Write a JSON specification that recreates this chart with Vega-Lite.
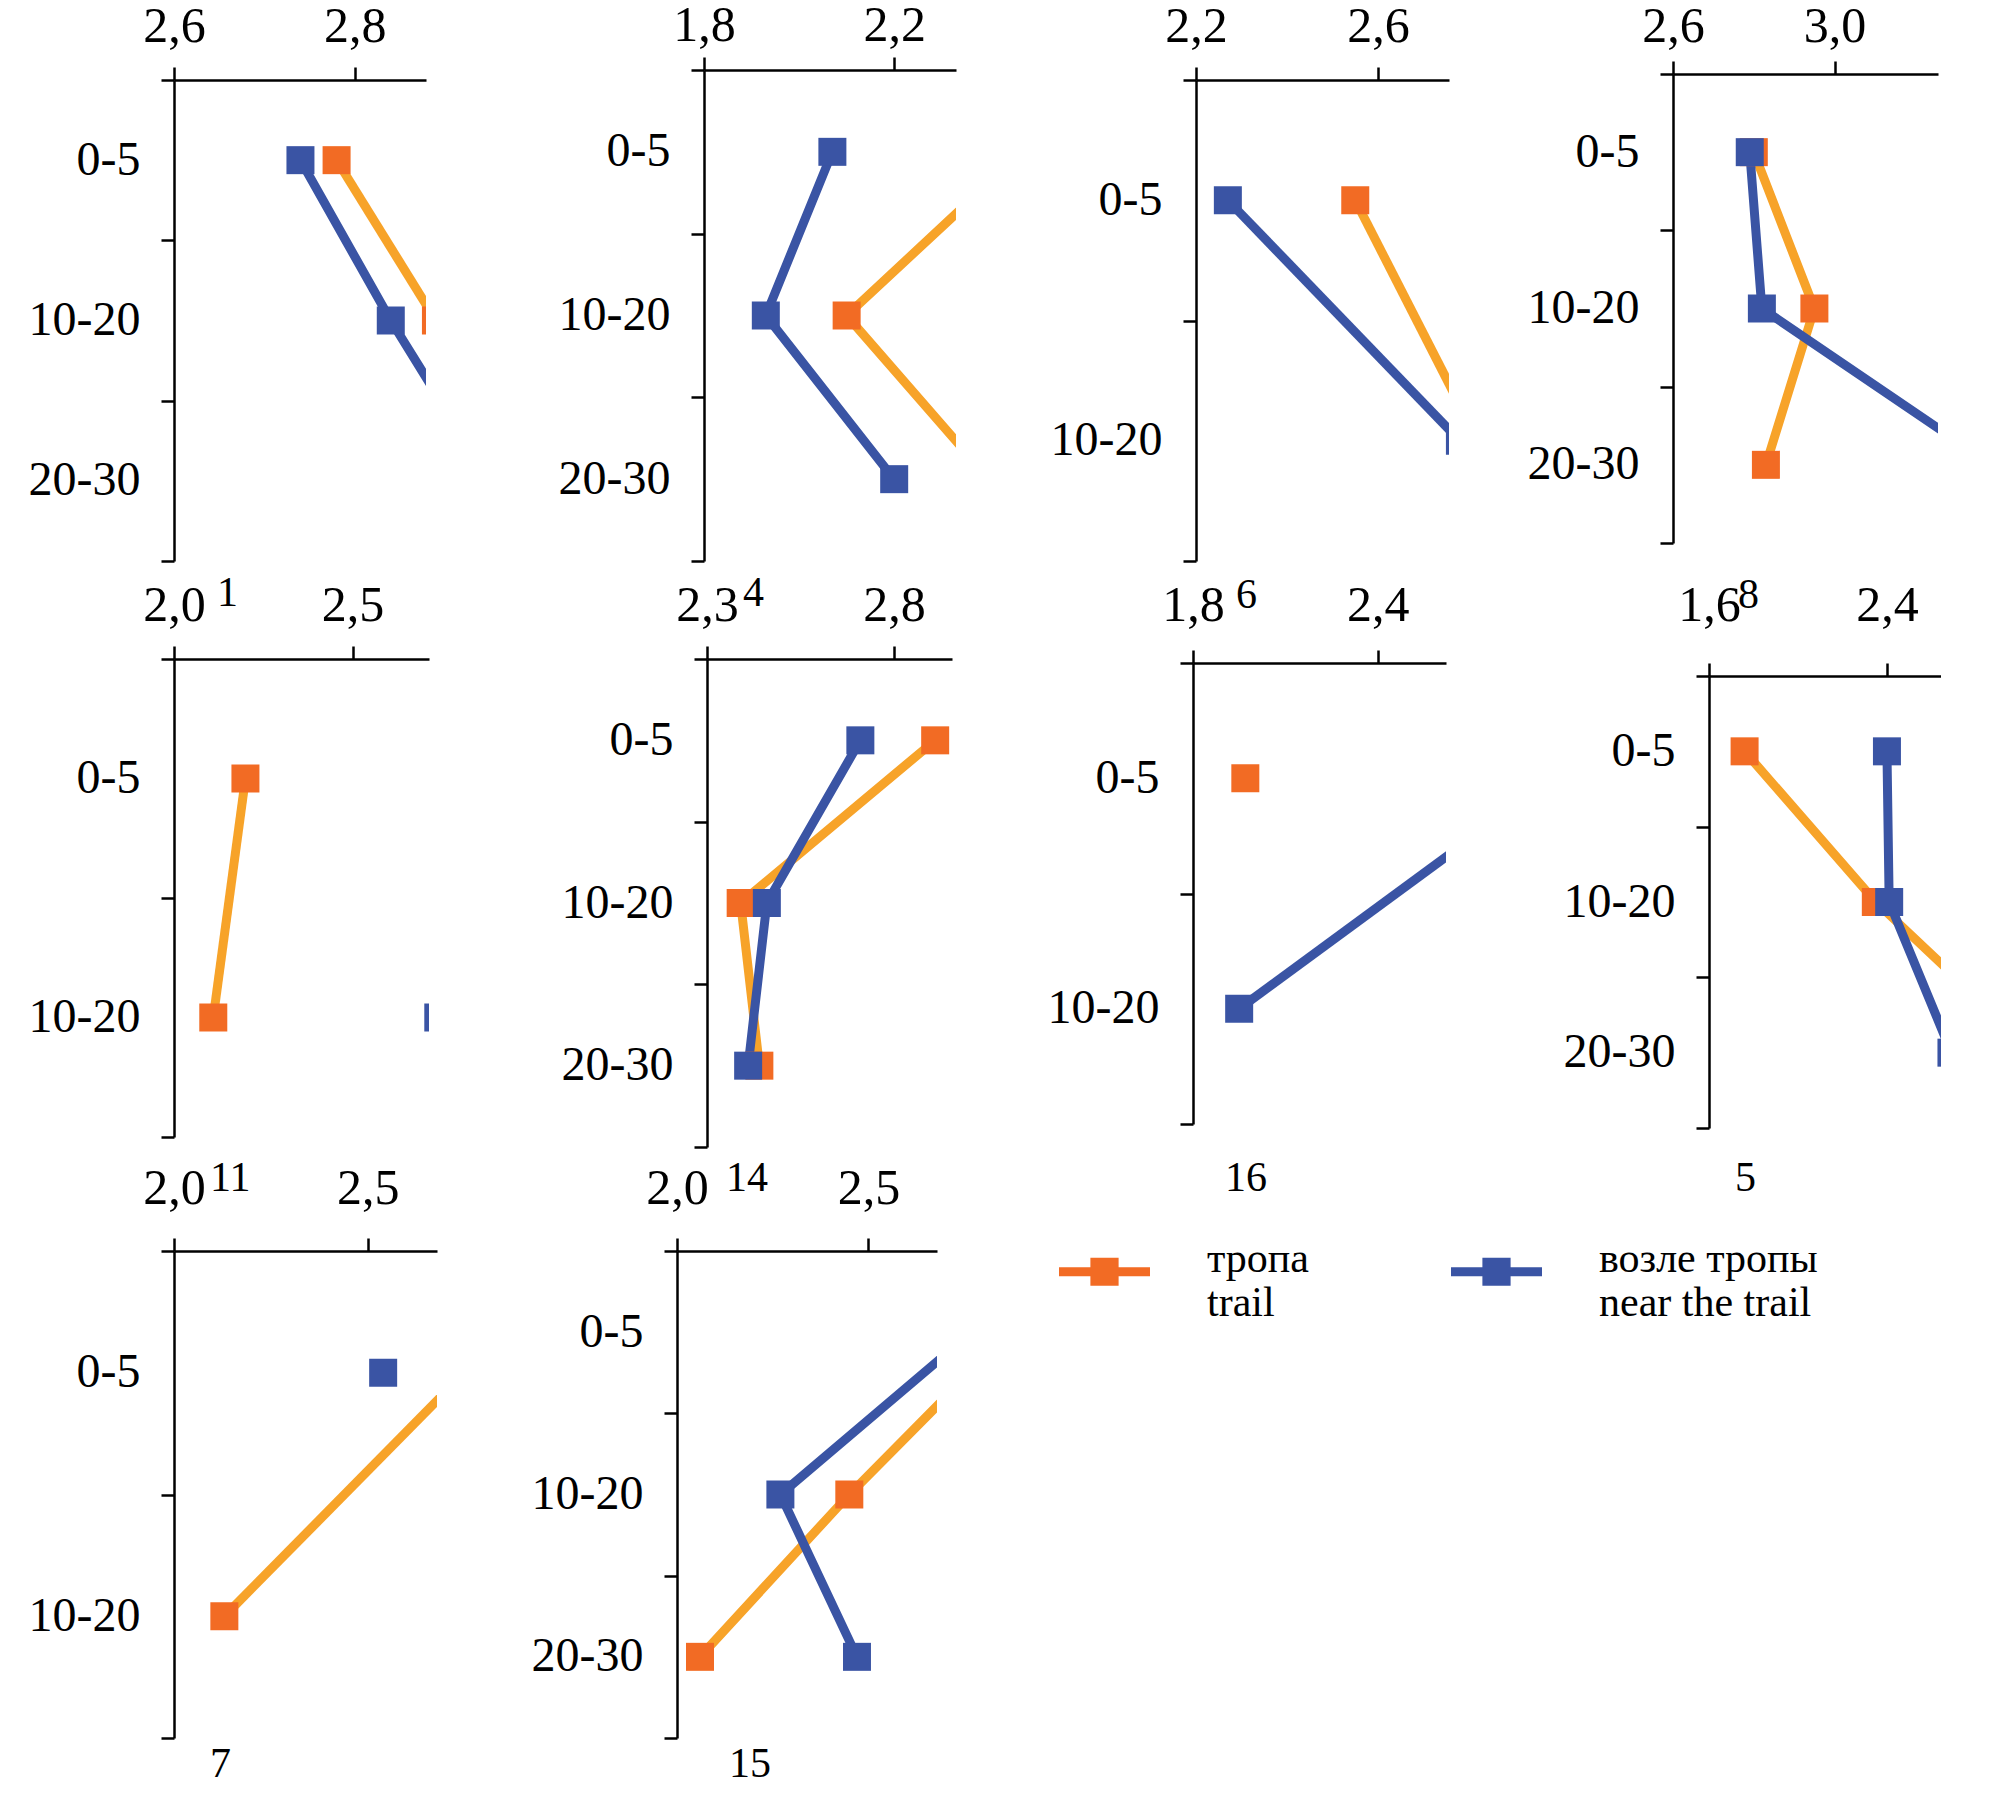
{
  "$schema": "https://vega.github.io/schema/vega-lite/v6.json",
  "background": "white",
  "padding": {"left": 0, "top": 0, "right": 0, "bottom": 0},
  "spacing": -37,
  "datasets": {
    "d": [
      {"p": "1", "s": "тропа", "depth": "0-5", "v": 2.78},
      {"p": "1", "s": "тропа", "depth": "10-20", "v": 2.89},
      {"p": "4", "s": "тропа", "depth": "0-5", "v": 2.47},
      {"p": "4", "s": "тропа", "depth": "10-20", "v": 2.10},
      {"p": "4", "s": "тропа", "depth": "20-30", "v": 2.40},
      {"p": "6", "s": "тропа", "depth": "0-5", "v": 2.55},
      {"p": "6", "s": "тропа", "depth": "10-20", "v": 2.82},
      {"p": "8", "s": "тропа", "depth": "0-5", "v": 2.80},
      {"p": "8", "s": "тропа", "depth": "10-20", "v": 2.95},
      {"p": "8", "s": "тропа", "depth": "20-30", "v": 2.83},
      {"p": "11", "s": "тропа", "depth": "0-5", "v": 2.20},
      {"p": "11", "s": "тропа", "depth": "10-20", "v": 2.11},
      {"p": "14", "s": "тропа", "depth": "0-5", "v": 2.91},
      {"p": "14", "s": "тропа", "depth": "10-20", "v": 2.39},
      {"p": "14", "s": "тропа", "depth": "20-30", "v": 2.44},
      {"p": "16", "s": "тропа", "depth": "0-5", "v": 1.97},
      {"p": "5", "s": "тропа", "depth": "0-5", "v": 1.76},
      {"p": "5", "s": "тропа", "depth": "10-20", "v": 2.35},
      {"p": "5", "s": "тропа", "depth": "20-30", "v": 3.07},
      {"p": "7", "s": "тропа", "depth": "0-5", "v": 2.75},
      {"p": "7", "s": "тропа", "depth": "10-20", "v": 2.13},
      {"p": "15", "s": "тропа", "depth": "0-5", "v": 2.87},
      {"p": "15", "s": "тропа", "depth": "10-20", "v": 2.45},
      {"p": "15", "s": "тропа", "depth": "20-30", "v": 2.06},
      {"p": "1", "s": "возле тропы", "depth": "0-5", "v": 2.74},
      {"p": "1", "s": "возле тропы", "depth": "10-20", "v": 2.84},
      {"p": "1", "s": "возле тропы", "depth": "20-30", "v": 2.95},
      {"p": "4", "s": "возле тропы", "depth": "0-5", "v": 2.07},
      {"p": "4", "s": "возле тропы", "depth": "10-20", "v": 1.93},
      {"p": "4", "s": "возле тропы", "depth": "20-30", "v": 2.20},
      {"p": "6", "s": "возле тропы", "depth": "0-5", "v": 2.27},
      {"p": "6", "s": "возле тропы", "depth": "10-20", "v": 2.78},
      {"p": "8", "s": "возле тропы", "depth": "0-5", "v": 2.79},
      {"p": "8", "s": "возле тропы", "depth": "10-20", "v": 2.82},
      {"p": "8", "s": "возле тропы", "depth": "20-30", "v": 3.39},
      {"p": "11", "s": "возле тропы", "depth": "10-20", "v": 2.74},
      {"p": "14", "s": "возле тропы", "depth": "0-5", "v": 2.71},
      {"p": "14", "s": "возле тропы", "depth": "10-20", "v": 2.46},
      {"p": "14", "s": "возле тропы", "depth": "20-30", "v": 2.41},
      {"p": "16", "s": "возле тропы", "depth": "0-5", "v": 2.97},
      {"p": "16", "s": "возле тропы", "depth": "10-20", "v": 1.95},
      {"p": "5", "s": "возле тропы", "depth": "0-5", "v": 2.40},
      {"p": "5", "s": "возле тропы", "depth": "10-20", "v": 2.41},
      {"p": "5", "s": "возле тропы", "depth": "20-30", "v": 2.69},
      {"p": "7", "s": "возле тропы", "depth": "0-5", "v": 2.54},
      {"p": "15", "s": "возле тропы", "depth": "0-5", "v": 2.77},
      {"p": "15", "s": "возле тропы", "depth": "10-20", "v": 2.27},
      {"p": "15", "s": "возле тропы", "depth": "20-30", "v": 2.47}
    ]
  },
  "vconcat": [
    {
      "spacing": 20,
      "hconcat": [
        {
          "width": 252, "height": 491,
          "title": {"text": "1", "dx": 43, "offset": 11},
          "data": {"name": "d"},
          "transform": [{"filter": "datum.p == '1'"}],
          "encoding": {
            "y": {"field": "depth", "type": "nominal", "title": null, "scale": {"type": "band", "domain": ["0-5", "10-20", "20-30"], "range": [10, 491], "paddingInner": 0, "paddingOuter": 0}, "axis": {"minExtent": 174, "maxExtent": 174}},
            "x": {"field": "v", "type": "quantitative", "title": null, "scale": {"domain": [2.6, 2.879], "nice": false, "zero": false}, "axis": {"orient": "top", "offset": -10, "values": [2.6, 2.8], "labelPadding": 26, "labelExpr": "replace(format(datum.value, '.1f'), '.', ',')"}}
          },
          "layer": [
            {"mark": {"type": "line", "clip": true, "strokeWidth": 9}, "encoding": {"stroke": {"field": "s", "type": "nominal", "scale": {"domain": ["возле тропы", "тропа"], "range": ["#3A54A4", "#F7A329"]}, "legend": null}, "order": {"field": "depth", "type": "ordinal"}}},
            {"mark": {"type": "point", "shape": "square", "filled": true, "size": 784, "opacity": 1, "clip": true}, "encoding": {"color": {"field": "s", "type": "nominal", "scale": {"domain": ["тропа", "возле тропы"], "range": ["#F26B24", "#3A54A4"]}, "legend": {"orient": "none", "legendX": 885, "legendY": 1156, "labelExpr": "datum.label == 'тропа' ? ['тропа', 'trail'] : ['возле тропы', 'near the trail']"}}}}
          ]
        },
        {
          "width": 252, "height": 491,
          "title": {"text": "4", "dx": 39, "offset": 11},
          "data": {"name": "d"},
          "transform": [{"filter": "datum.p == '4'"}],
          "encoding": {
            "y": {"field": "depth", "type": "nominal", "title": null, "scale": {"type": "band", "domain": ["0-5", "10-20", "20-30"], "paddingInner": 0, "paddingOuter": 0}, "axis": {"minExtent": 258, "maxExtent": 258}},
            "x": {"field": "v", "type": "quantitative", "title": null, "scale": {"domain": [1.8, 2.33], "nice": false, "zero": false}, "axis": {"orient": "top", "values": [1.8, 2.2], "labelPadding": 17, "labelExpr": "replace(format(datum.value, '.1f'), '.', ',')"}}
          },
          "layer": [
            {"mark": {"type": "line", "clip": true, "strokeWidth": 9}, "encoding": {"stroke": {"field": "s", "type": "nominal", "scale": {"domain": ["возле тропы", "тропа"], "range": ["#3A54A4", "#F7A329"]}, "legend": null}, "order": {"field": "depth", "type": "ordinal"}}},
            {"mark": {"type": "point", "shape": "square", "filled": true, "size": 784, "opacity": 1, "clip": true}, "encoding": {"color": {"field": "s", "type": "nominal", "scale": {"domain": ["тропа", "возле тропы"], "range": ["#F26B24", "#3A54A4"]}, "legend": {"orient": "none", "legendX": 885, "legendY": 1156, "labelExpr": "datum.label == 'тропа' ? ['тропа', 'trail'] : ['возле тропы', 'near the trail']"}}}}
          ]
        },
        {
          "width": 253, "height": 491,
          "title": {"text": "6", "dx": 40, "offset": 13},
          "data": {"name": "d"},
          "transform": [{"filter": "datum.p == '6'"}],
          "encoding": {
            "y": {"field": "depth", "type": "nominal", "title": null, "scale": {"type": "band", "domain": ["0-5", "10-20"], "range": [10, 491], "paddingInner": 0, "paddingOuter": 0}, "axis": {"minExtent": 220, "maxExtent": 220}},
            "x": {"field": "v", "type": "quantitative", "title": null, "scale": {"domain": [2.2, 2.756], "nice": false, "zero": false}, "axis": {"orient": "top", "offset": -10, "values": [2.2, 2.6], "labelPadding": 26, "labelExpr": "replace(format(datum.value, '.1f'), '.', ',')"}}
          },
          "layer": [
            {"mark": {"type": "line", "clip": true, "strokeWidth": 9}, "encoding": {"stroke": {"field": "s", "type": "nominal", "scale": {"domain": ["возле тропы", "тропа"], "range": ["#3A54A4", "#F7A329"]}, "legend": null}, "order": {"field": "depth", "type": "ordinal"}}},
            {"mark": {"type": "point", "shape": "square", "filled": true, "size": 784, "opacity": 1, "clip": true}, "encoding": {"color": {"field": "s", "type": "nominal", "scale": {"domain": ["тропа", "возле тропы"], "range": ["#F26B24", "#3A54A4"]}, "legend": {"orient": "none", "legendX": 885, "legendY": 1156, "labelExpr": "datum.label == 'тропа' ? ['тропа', 'trail'] : ['возле тропы', 'near the trail']"}}}}
          ]
        },
        {
          "width": 265, "height": 473,
          "title": {"text": "8", "dx": 65, "offset": 31},
          "data": {"name": "d"},
          "transform": [{"filter": "datum.p == '8'"}],
          "encoding": {
            "y": {"field": "depth", "type": "nominal", "title": null, "scale": {"type": "band", "domain": ["0-5", "10-20", "20-30"], "range": [4, 473], "paddingInner": 0, "paddingOuter": 0}, "axis": {"minExtent": 204, "maxExtent": 204}},
            "x": {"field": "v", "type": "quantitative", "title": null, "scale": {"domain": [2.6, 3.256], "nice": false, "zero": false}, "axis": {"orient": "top", "offset": -4, "values": [2.6, 3.0], "labelPadding": 20, "labelExpr": "replace(format(datum.value, '.1f'), '.', ',')"}}
          },
          "layer": [
            {"mark": {"type": "line", "clip": true, "strokeWidth": 9}, "encoding": {"stroke": {"field": "s", "type": "nominal", "scale": {"domain": ["возле тропы", "тропа"], "range": ["#3A54A4", "#F7A329"]}, "legend": null}, "order": {"field": "depth", "type": "ordinal"}}},
            {"mark": {"type": "point", "shape": "square", "filled": true, "size": 784, "opacity": 1, "clip": true}, "encoding": {"color": {"field": "s", "type": "nominal", "scale": {"domain": ["тропа", "возле тропы"], "range": ["#F26B24", "#3A54A4"]}, "legend": {"orient": "none", "legendX": 885, "legendY": 1156, "labelExpr": "datum.label == 'тропа' ? ['тропа', 'trail'] : ['возле тропы', 'near the trail']"}}}}
          ]
        }
      ]
    },
    {
      "spacing": 20,
      "hconcat": [
        {
          "width": 255, "height": 478,
          "title": {"text": "11", "dx": 36, "offset": 20},
          "data": {"name": "d"},
          "transform": [{"filter": "datum.p == '11'"}],
          "encoding": {
            "y": {"field": "depth", "type": "nominal", "title": null, "scale": {"type": "band", "domain": ["0-5", "10-20"], "paddingInner": 0, "paddingOuter": 0}, "axis": {"minExtent": 174, "maxExtent": 174}},
            "x": {"field": "v", "type": "quantitative", "title": null, "scale": {"domain": [2.0, 2.714], "nice": false, "zero": false}, "axis": {"orient": "top", "values": [2.0, 2.5], "labelPadding": 26, "labelExpr": "replace(format(datum.value, '.1f'), '.', ',')"}}
          },
          "layer": [
            {"mark": {"type": "line", "clip": true, "strokeWidth": 9}, "encoding": {"stroke": {"field": "s", "type": "nominal", "scale": {"domain": ["возле тропы", "тропа"], "range": ["#3A54A4", "#F7A329"]}, "legend": null}, "order": {"field": "depth", "type": "ordinal"}}},
            {"mark": {"type": "point", "shape": "square", "filled": true, "size": 784, "opacity": 1, "clip": true}, "encoding": {"color": {"field": "s", "type": "nominal", "scale": {"domain": ["тропа", "возле тропы"], "range": ["#F26B24", "#3A54A4"]}, "legend": {"orient": "none", "legendX": 885, "legendY": 1156, "labelExpr": "datum.label == 'тропа' ? ['тропа', 'trail'] : ['возле тропы', 'near the trail']"}}}}
          ]
        },
        {
          "width": 245, "height": 488,
          "title": {"text": "14", "dx": 19, "offset": 10},
          "data": {"name": "d"},
          "transform": [{"filter": "datum.p == '14'"}],
          "encoding": {
            "y": {"field": "depth", "type": "nominal", "title": null, "scale": {"type": "band", "domain": ["0-5", "10-20", "20-30"], "paddingInner": 0, "paddingOuter": 0}, "axis": {"minExtent": 258, "maxExtent": 258}},
            "x": {"field": "v", "type": "quantitative", "title": null, "scale": {"domain": [2.3, 2.955], "nice": false, "zero": false}, "axis": {"orient": "top", "values": [2.3, 2.8], "labelPadding": 26, "labelExpr": "replace(format(datum.value, '.1f'), '.', ',')"}}
          },
          "layer": [
            {"mark": {"type": "line", "clip": true, "strokeWidth": 9}, "encoding": {"stroke": {"field": "s", "type": "nominal", "scale": {"domain": ["возле тропы", "тропа"], "range": ["#3A54A4", "#F7A329"]}, "legend": null}, "order": {"field": "depth", "type": "ordinal"}}},
            {"mark": {"type": "point", "shape": "square", "filled": true, "size": 784, "opacity": 1, "clip": true}, "encoding": {"color": {"field": "s", "type": "nominal", "scale": {"domain": ["тропа", "возле тропы"], "range": ["#F26B24", "#3A54A4"]}, "legend": {"orient": "none", "legendX": 885, "legendY": 1156, "labelExpr": "datum.label == 'тропа' ? ['тропа', 'trail'] : ['возле тропы', 'near the trail']"}}}}
          ]
        },
        {
          "width": 253, "height": 465,
          "title": {"text": "16", "dx": 32, "offset": 33},
          "data": {"name": "d"},
          "transform": [{"filter": "datum.p == '16'"}],
          "encoding": {
            "y": {"field": "depth", "type": "nominal", "title": null, "scale": {"type": "band", "domain": ["0-5", "10-20"], "range": [4, 465], "paddingInner": 0, "paddingOuter": 0}, "axis": {"minExtent": 221, "maxExtent": 221}},
            "x": {"field": "v", "type": "quantitative", "title": null, "scale": {"domain": [1.8, 2.622], "nice": false, "zero": false}, "axis": {"orient": "top", "offset": -4, "values": [1.8, 2.4], "labelPadding": 30, "labelExpr": "replace(format(datum.value, '.1f'), '.', ',')"}}
          },
          "layer": [
            {"mark": {"type": "line", "clip": true, "strokeWidth": 9}, "encoding": {"stroke": {"field": "s", "type": "nominal", "scale": {"domain": ["возле тропы", "тропа"], "range": ["#3A54A4", "#F7A329"]}, "legend": null}, "order": {"field": "depth", "type": "ordinal"}}},
            {"mark": {"type": "point", "shape": "square", "filled": true, "size": 784, "opacity": 1, "clip": true}, "encoding": {"color": {"field": "s", "type": "nominal", "scale": {"domain": ["тропа", "возле тропы"], "range": ["#F26B24", "#3A54A4"]}, "legend": {"orient": "none", "legendX": 885, "legendY": 1156, "labelExpr": "datum.label == 'тропа' ? ['тропа', 'trail'] : ['возле тропы', 'near the trail']"}}}}
          ]
        },
        {
          "width": 232, "height": 469,
          "title": {"text": "5", "dx": 26, "offset": 29},
          "data": {"name": "d"},
          "transform": [{"filter": "datum.p == '5'"}],
          "encoding": {
            "y": {"field": "depth", "type": "nominal", "title": null, "scale": {"type": "band", "domain": ["0-5", "10-20", "20-30"], "range": [17, 469], "paddingInner": 0, "paddingOuter": 0}, "axis": {"minExtent": 243, "maxExtent": 243}},
            "x": {"field": "v", "type": "quantitative", "title": null, "scale": {"domain": [1.6, 2.643], "nice": false, "zero": false}, "axis": {"orient": "top", "offset": -17, "values": [1.6, 2.4], "labelPadding": 43, "labelExpr": "replace(format(datum.value, '.1f'), '.', ',')"}}
          },
          "layer": [
            {"mark": {"type": "line", "clip": true, "strokeWidth": 9}, "encoding": {"stroke": {"field": "s", "type": "nominal", "scale": {"domain": ["возле тропы", "тропа"], "range": ["#3A54A4", "#F7A329"]}, "legend": null}, "order": {"field": "depth", "type": "ordinal"}}},
            {"mark": {"type": "point", "shape": "square", "filled": true, "size": 784, "opacity": 1, "clip": true}, "encoding": {"color": {"field": "s", "type": "nominal", "scale": {"domain": ["тропа", "возле тропы"], "range": ["#F26B24", "#3A54A4"]}, "legend": {"orient": "none", "legendX": 885, "legendY": 1156, "labelExpr": "datum.label == 'тропа' ? ['тропа', 'trail'] : ['возле тропы', 'near the trail']"}}}}
          ]
        }
      ]
    },
    {
      "spacing": 20,
      "hconcat": [
        {
          "width": 263, "height": 487,
          "title": {"text": "7", "dx": 36, "offset": 5},
          "data": {"name": "d"},
          "transform": [{"filter": "datum.p == '7'"}],
          "encoding": {
            "y": {"field": "depth", "type": "nominal", "title": null, "scale": {"type": "band", "domain": ["0-5", "10-20"], "paddingInner": 0, "paddingOuter": 0}, "axis": {"minExtent": 174, "maxExtent": 174}},
            "x": {"field": "v", "type": "quantitative", "title": null, "scale": {"domain": [2.0, 2.679], "nice": false, "zero": false}, "axis": {"orient": "top", "values": [2.0, 2.5], "labelPadding": 35, "labelExpr": "replace(format(datum.value, '.1f'), '.', ',')"}}
          },
          "layer": [
            {"mark": {"type": "line", "clip": true, "strokeWidth": 9}, "encoding": {"stroke": {"field": "s", "type": "nominal", "scale": {"domain": ["возле тропы", "тропа"], "range": ["#3A54A4", "#F7A329"]}, "legend": null}, "order": {"field": "depth", "type": "ordinal"}}},
            {"mark": {"type": "point", "shape": "square", "filled": true, "size": 784, "opacity": 1, "clip": true}, "encoding": {"color": {"field": "s", "type": "nominal", "scale": {"domain": ["тропа", "возле тропы"], "range": ["#F26B24", "#3A54A4"]}, "legend": {"orient": "none", "legendX": 885, "legendY": 1156, "labelExpr": "datum.label == 'тропа' ? ['тропа', 'trail'] : ['возле тропы', 'near the trail']"}}}}
          ]
        },
        {
          "width": 260, "height": 487,
          "title": {"text": "15", "dx": 52, "offset": 5},
          "data": {"name": "d"},
          "transform": [{"filter": "datum.p == '15'"}],
          "encoding": {
            "y": {"field": "depth", "type": "nominal", "title": null, "scale": {"type": "band", "domain": ["0-5", "10-20", "20-30"], "paddingInner": 0, "paddingOuter": 0}, "axis": {"minExtent": 220, "maxExtent": 220}},
            "x": {"field": "v", "type": "quantitative", "title": null, "scale": {"domain": [2.0, 2.679], "nice": false, "zero": false}, "axis": {"orient": "top", "values": [2.0, 2.5], "labelPadding": 35, "labelExpr": "replace(format(datum.value, '.1f'), '.', ',')"}}
          },
          "layer": [
            {"mark": {"type": "line", "clip": true, "strokeWidth": 9}, "encoding": {"stroke": {"field": "s", "type": "nominal", "scale": {"domain": ["возле тропы", "тропа"], "range": ["#3A54A4", "#F7A329"]}, "legend": null}, "order": {"field": "depth", "type": "ordinal"}}},
            {"mark": {"type": "point", "shape": "square", "filled": true, "size": 784, "opacity": 1, "clip": true}, "encoding": {"color": {"field": "s", "type": "nominal", "scale": {"domain": ["тропа", "возле тропы"], "range": ["#F26B24", "#3A54A4"]}, "legend": {"orient": "none", "legendX": 885, "legendY": 1156, "labelExpr": "datum.label == 'тропа' ? ['тропа', 'trail'] : ['возле тропы', 'near the trail']"}}}}
          ]
        }
      ]
    }
  ],
  "config": {
    "view": {"stroke": null},
    "axis": {"domainColor": "black", "domainWidth": 2.5, "tickColor": "black", "tickWidth": 2.5, "tickSize": 13, "labelColor": "black", "labelFont": "Liberation Serif", "grid": false, "labelOverlap": false, "labelFlush": false},
    "axisX": {"labelFontSize": 50, "labelBaseline": "alphabetic"},
    "axisY": {"labelFontSize": 48, "labelPadding": 21, "tickBand": "extent"},
    "legend": {"title": null, "direction": "horizontal", "columns": 2, "columnPadding": 142, "symbolType": "M-1,-0.1H1V0.1H-1Z M-0.31,-0.31H0.31V0.31H-0.31Z", "symbolSize": 8281, "symbolStrokeWidth": 0, "symbolOpacity": 1, "labelOffset": 57, "labelFont": "Liberation Serif", "labelFontSize": 42, "labelColor": "black", "labelBaseline": "alphabetic", "labelLimit": 500, "padding": 0},
    "title": {"orient": "bottom", "anchor": "start", "frame": "group", "font": "Liberation Serif", "fontSize": 42, "fontWeight": "normal", "baseline": "top", "color": "black"}
  }
}
